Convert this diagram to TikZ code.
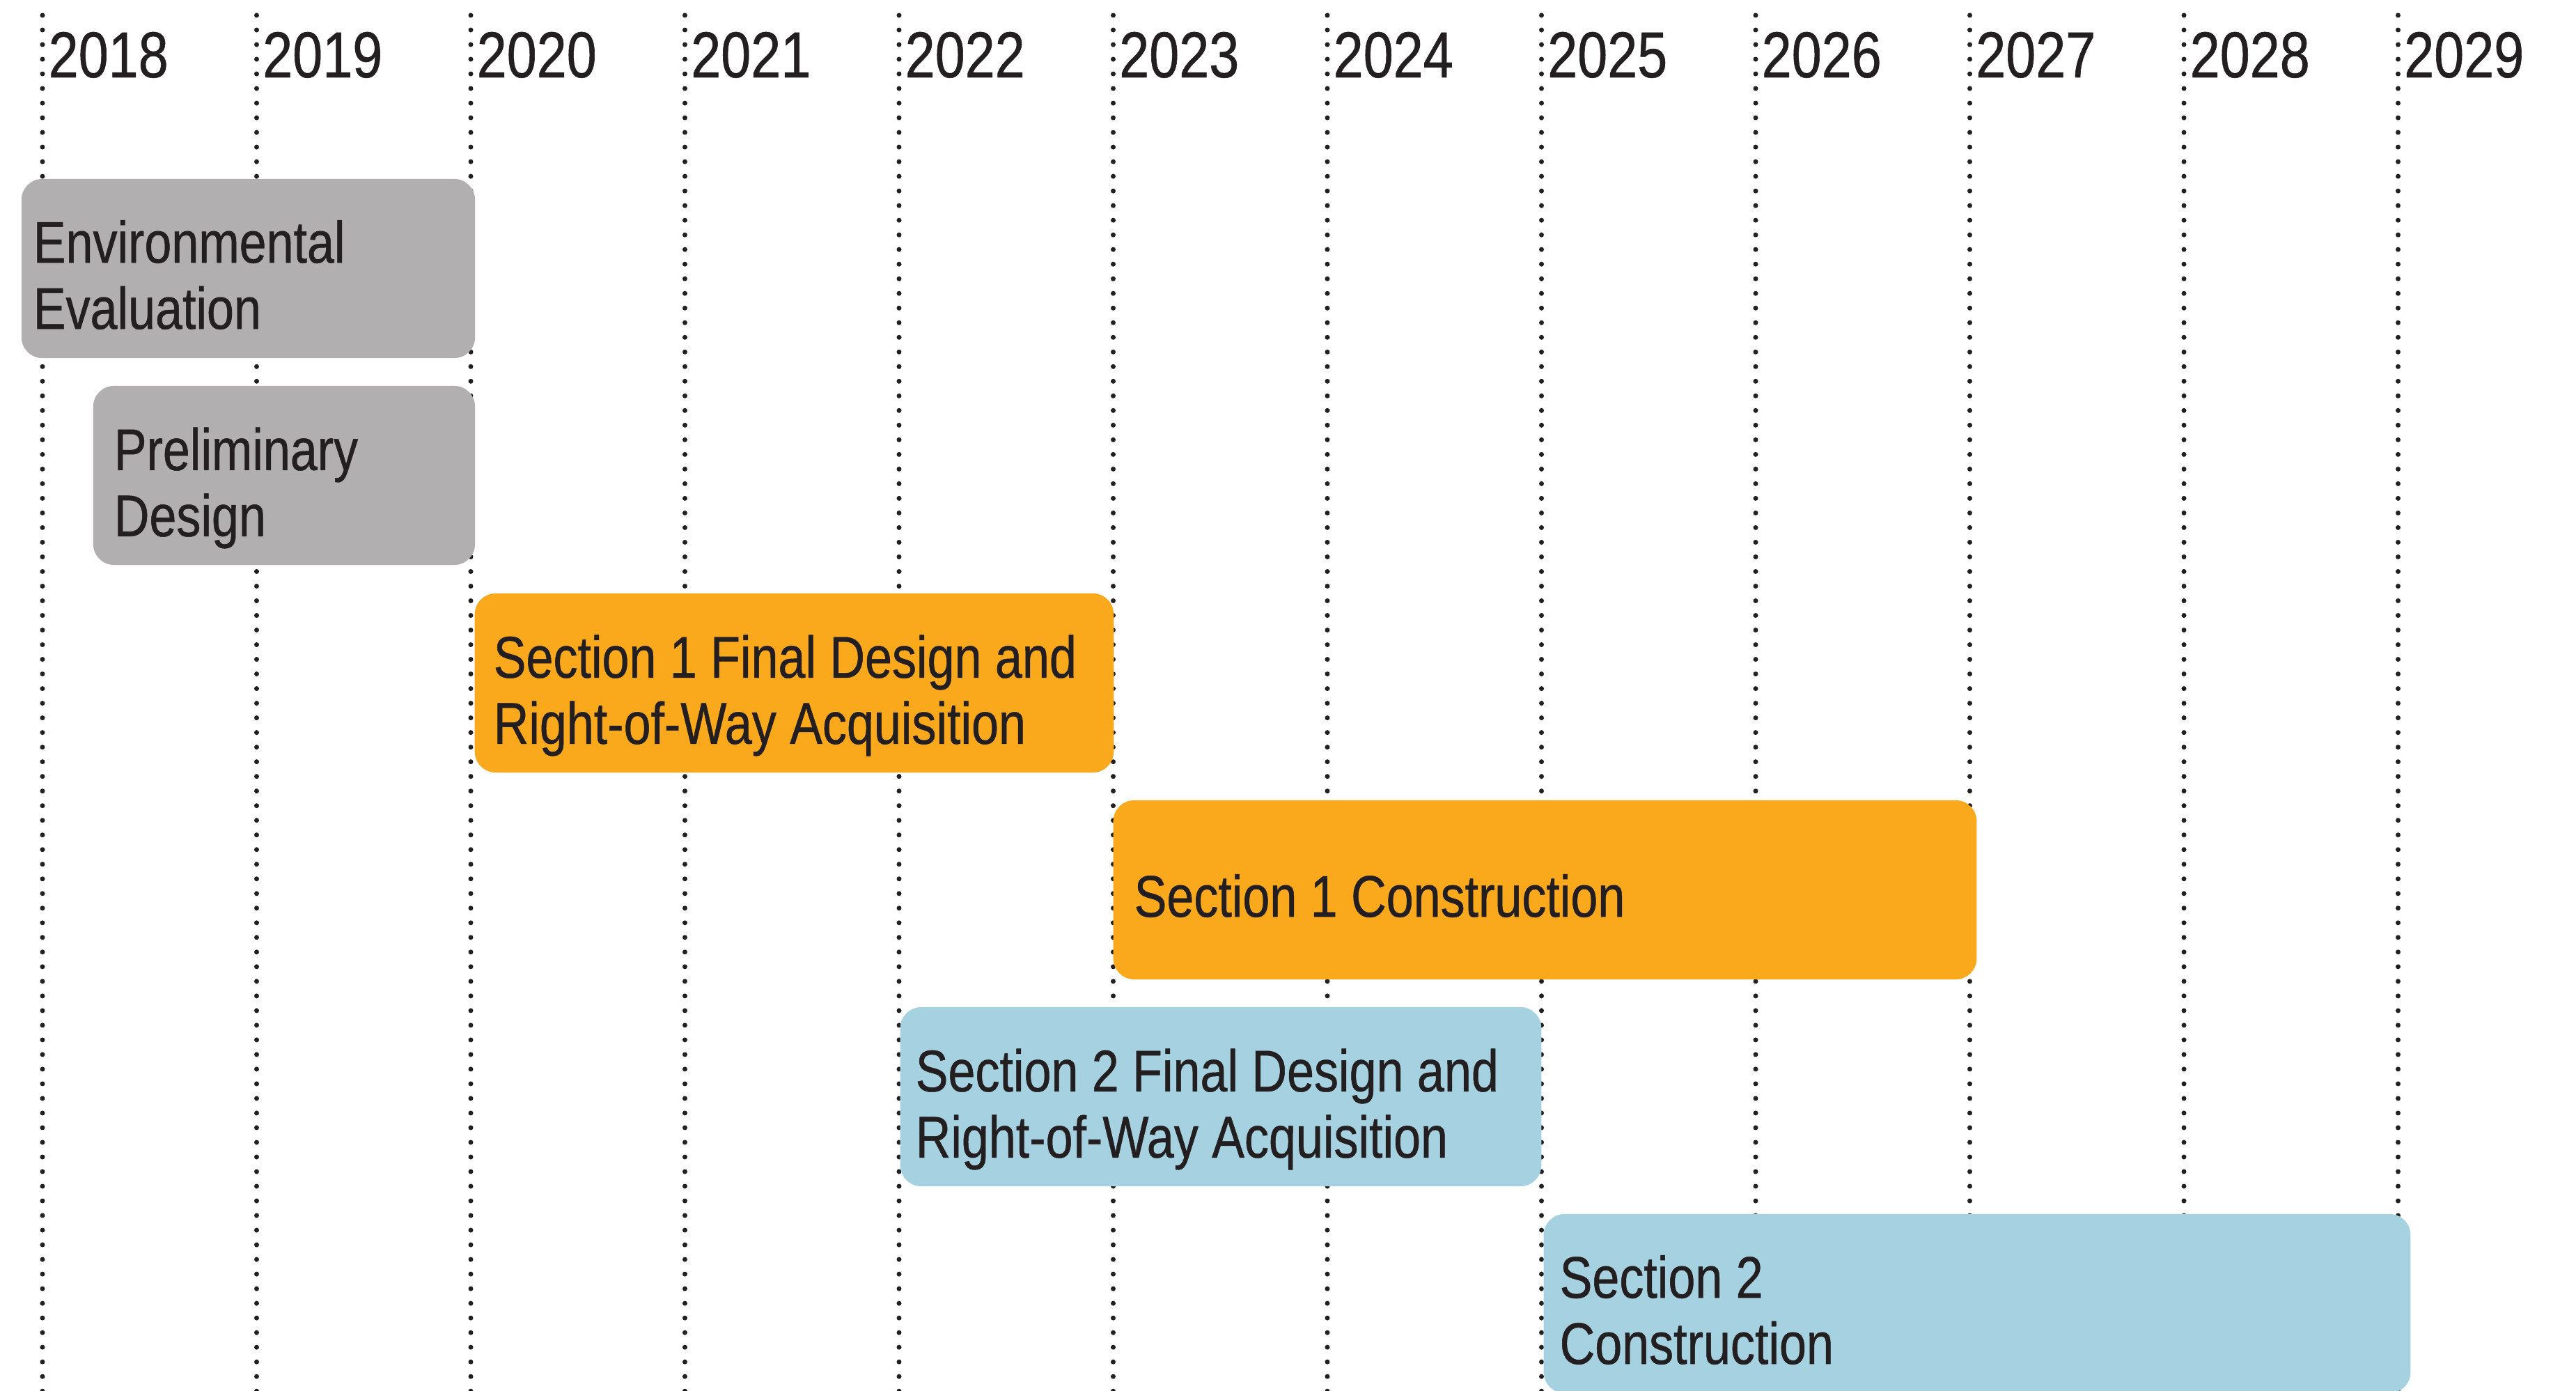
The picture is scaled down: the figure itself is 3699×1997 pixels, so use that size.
\documentclass[tikz,border=0pt]{standalone}
\usepackage{fontspec}
\setmainfont{Liberation Sans}[FakeStretch=0.83,FakeBold=0.6]
\usetikzlibrary{positioning}
\definecolor{barGray}{HTML}{B1AFB0}
\definecolor{barOrange}{HTML}{FAA81C}
\definecolor{barBlue}{HTML}{A5D1E1}
\definecolor{inkDark}{HTML}{231F20}

\begin{document}
\begin{tikzpicture}[
    x=0.01cm, y=-0.01cm,
    gridline/.style={inkDark,line width=0.07cm,line cap=round,dash pattern=on 0pt off 0.21cm},
    yearlabel/.style={anchor=base west,inner sep=0pt,text=inkDark,font=\fontsize{26.5}{30}\selectfont},
    barbox/.style={rounded corners=0.3cm,inner sep=0pt,minimum height=2.57cm},
    bartext/.style={anchor=west,inner sep=0pt,align=left,text=inkDark,font=\fontsize{24}{27}\selectfont}
  ]
    \clip (0,0) rectangle (3699,1997);
    % year grid
    \foreach \yr [count=\i from 0] in {2018,...,2029} {
      \coordinate (top\yr) at (61+307.5*\i,22);
      \coordinate (bot\yr) at (61+307.5*\i,2010);
      \draw[gridline] (top\yr) -- (bot\yr);
      \node[yearlabel] (y\yr) at (69+307.5*\i,111) {\yr};
    }
    % phases
    \node[barbox,fill=barGray,minimum width=6.51cm] (enveval) at (356.5,385.5) {};
    \node[barbox,fill=barGray,minimum width=5.48cm] (prelim) at (408,682.5) {};
    \node[barbox,fill=barOrange,minimum width=9.17cm] (sOneFD) at (1140.5,980.5) {};
    \node[barbox,fill=barOrange,minimum width=12.39cm] (sOneCon) at (2218.5,1277.5) {};
    \node[barbox,fill=barBlue,minimum width=9.20cm] (sTwoFD) at (1753,1574.5) {};
    \node[barbox,fill=barBlue,minimum width=12.44cm] (sTwoCon) at (2839,1871.5) {};
    \node[bartext,right=0.17cm of enveval.west,yshift=-0.09cm] (envevalText) {Environmental\\Evaluation};
    \node[bartext,right=0.30cm of prelim.west,yshift=-0.18cm] (prelimText) {Preliminary\\Design};
    \node[bartext,right=0.27cm of sOneFD.west,yshift=-0.18cm] (sOneFDText) {Section 1 Final Design and\\Right-of-Way Acquisition};
    \node[bartext,right=0.30cm of sOneCon.west,yshift=-0.085cm] (sOneConText) {Section 1 Construction};
    \node[bartext,right=0.22cm of sTwoFD.west,yshift=-0.18cm] (sTwoFDText) {Section 2 Final Design and\\Right-of-Way Acquisition};
    \node[bartext,right=0.23cm of sTwoCon.west,yshift=-0.09cm] (sTwoConText) {Section 2\\Construction};
  \end{tikzpicture}
\end{document}
